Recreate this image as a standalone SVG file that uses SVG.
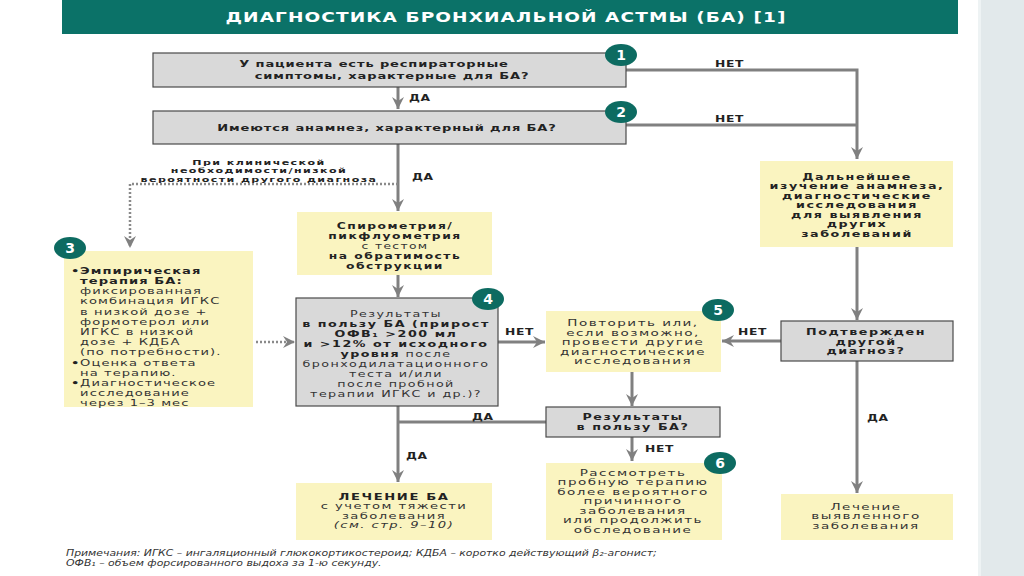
<svg xmlns="http://www.w3.org/2000/svg" width="1024" height="576" viewBox="0 0 1024 576">
<style>
.gray{fill:#d9d9d9;stroke:#4a4a4a;stroke-width:1.2}
.yel{fill:#faf4c0}
.badge{fill:#0d6b61}
.bn{font-family:"DejaVu Sans",sans-serif;font-weight:bold;font-size:14px;fill:#fff;text-anchor:middle}
.h{font-family:"DejaVu Sans",sans-serif;font-weight:bold;font-size:9px;fill:#222;text-anchor:middle;letter-spacing:0.6px}
.t{font-family:"DejaVu Sans",sans-serif;font-weight:bold;font-size:8.2px;fill:#222;text-anchor:middle;letter-spacing:1px}
.n{font-family:"DejaVu Sans",sans-serif;font-size:8.2px;fill:#333;text-anchor:middle;letter-spacing:0.9px}
.l{font-family:"DejaVu Sans",sans-serif;font-size:8.6px;fill:#333;letter-spacing:0.7px}
.lb{font-family:"DejaVu Sans",sans-serif;font-weight:bold;font-size:8.6px;fill:#222;letter-spacing:0.7px}
.lab{font-family:"DejaVu Sans",sans-serif;font-weight:bold;font-size:8.5px;fill:#222;letter-spacing:0.4px}
.an{font-family:"DejaVu Sans",sans-serif;font-weight:bold;font-size:7px;fill:#222;text-anchor:middle;letter-spacing:0.9px}
.c{fill:none;stroke:#808080;stroke-width:3}
.d{fill:none;stroke:#8a8a8a;stroke-width:2.5;stroke-dasharray:2 2}
.note{font-family:"DejaVu Sans",sans-serif;font-style:italic;font-size:8px;fill:#333}
</style>
<defs>
<marker id="ah" markerUnits="userSpaceOnUse" markerWidth="14" markerHeight="12" refX="12" refY="6" orient="auto">
<path d="M0,0 L12,6 L0,12 L4,6 z" fill="#808080"/>
</marker>
</defs>
<rect x="0" y="0" width="1024" height="576" fill="#fff"/>
<rect x="980" y="0" width="44" height="576" fill="#e2e9eb"/>
<rect x="978" y="0" width="3" height="576" fill="#eef3f4"/>

<g id="title">
<rect x="62" y="0" width="896" height="34" fill="#0b7268"/>
<text transform="translate(506 22) scale(1.37 1)" x="0" y="0" font-family="DejaVu Sans,sans-serif" font-weight="bold" font-size="13.5" fill="#fff" text-anchor="middle" letter-spacing="0.8">ДИАГНОСТИКА БРОНХИАЛЬНОЙ АСТМЫ (БА) [1]</text>
</g>

<g id="connectors">
<path class="c" d="M398,87 V109" marker-end="url(#ah)"/>
<path class="c" d="M626,70 H857 V159" marker-end="url(#ah)"/>
<path class="c" d="M626,125 H857"/>
<path class="c" d="M398,144 V211" marker-end="url(#ah)"/>
<path class="d" d="M398,184 H130 V248" marker-end="url(#ah)"/>
<path class="c" d="M398,275 V297" marker-end="url(#ah)"/>
<path class="d" d="M256,342 H295" marker-end="url(#ah)"/>
<path class="c" d="M498,342 H545" marker-end="url(#ah)"/>
<path class="c" d="M857,247 V320" marker-end="url(#ah)"/>
<path class="c" d="M781,341 H722" marker-end="url(#ah)"/>
<path class="c" d="M632,372 V406" marker-end="url(#ah)"/>
<path class="c" d="M546,422 H398"/>
<path class="c" d="M398,406 V482" marker-end="url(#ah)"/>
<path class="c" d="M632,437 V461" marker-end="url(#ah)"/>
<path class="c" d="M857,361 V493" marker-end="url(#ah)"/>
<text class="lab" transform="translate(409 101) scale(1.45 1)">ДА</text>
<text class="lab" transform="translate(715 67) scale(1.45 1)">НЕТ</text>
<text class="lab" transform="translate(715 122) scale(1.45 1)">НЕТ</text>
<text class="lab" transform="translate(412 180) scale(1.45 1)">ДА</text>
<text class="lab" transform="translate(505 335) scale(1.45 1)">НЕТ</text>
<text class="lab" transform="translate(738 335) scale(1.45 1)">НЕТ</text>
<text class="lab" transform="translate(472 420) scale(1.45 1)">ДА</text>
<text class="lab" transform="translate(406 459) scale(1.45 1)">ДА</text>
<text class="lab" transform="translate(645 452) scale(1.45 1)">НЕТ</text>
<text class="lab" transform="translate(867 421) scale(1.45 1)">ДА</text>
<g transform="translate(259 0) scale(1.58 1)">
<text class="an" x="0" y="165">При клинической</text>
<text class="an" x="0" y="173.5">необходимости/низкой</text>
<text class="an" x="0" y="182">вероятности другого диагноза</text>
</g>
</g>

<g id="n1">
<rect class="gray" x="153" y="53" width="473" height="34"/>
<text class="h" transform="translate(374 0) scale(1.45 1)" x="0" y="67.5">У пациента есть респираторные</text>
<text class="h" transform="translate(392 0) scale(1.45 1)" x="0" y="79">симптомы, характерные для БА?</text>
<ellipse class="badge" cx="621" cy="55" rx="16" ry="11"/>
<text class="bn" x="621" y="60">1</text>
</g>

<g id="n2">
<rect class="gray" x="153" y="111" width="473" height="33"/>
<text class="h" transform="translate(387 0) scale(1.45 1)" x="0" y="131">Имеются анамнез, характерный для БА?</text>
<ellipse class="badge" cx="621" cy="112" rx="16" ry="11"/>
<text class="bn" x="621" y="117">2</text>
</g>

<g id="n_spiro">
<rect class="yel" x="297" y="212" width="195" height="63"/>
<g transform="translate(395 0) scale(1.5 1)">
<text class="t" x="0" y="229">Спирометрия/</text>
<text class="t" x="0" y="239">пикфлуометрия</text>
<text class="n" x="0" y="249">с тестом</text>
<text class="t" x="0" y="259">на обратимость</text>
<text class="t" x="0" y="269">обструкции</text>
</g>
</g>

<g id="n3">
<rect class="yel" x="64" y="251" width="189" height="156"/>
<ellipse class="badge" cx="70" cy="248" rx="16" ry="11"/>
<text class="bn" x="70" y="253">3</text>
<g transform="translate(71 0) scale(1.52 1)">
<text class="lb" x="0" y="274">•</text>
<text class="lb" x="6" y="274">Эмпирическая</text>
<text class="lb" x="6" y="284">терапия БА:</text>
<text class="l" x="6" y="294">фиксированная</text>
<text class="l" x="6" y="304">комбинация ИГКС</text>
<text class="l" x="6" y="315">в низкой дозе +</text>
<text class="l" x="6" y="325">формотерол или</text>
<text class="l" x="6" y="335">ИГКС в низкой</text>
<text class="l" x="6" y="345">дозе + КДБА</text>
<text class="l" x="6" y="355">(по потребности).</text>
<text class="lb" x="0" y="366">•</text>
<text class="l" x="6" y="366">Оценка ответа</text>
<text class="l" x="6" y="376">на терапию.</text>
<text class="lb" x="0" y="386">•</text>
<text class="l" x="6" y="386">Диагностическое</text>
<text class="l" x="6" y="396">исследование</text>
<text class="l" x="6" y="406">через 1–3 мес</text>
</g>
</g>

<g id="n4">
<rect class="gray" x="296" y="298" width="202" height="108"/>
<ellipse class="badge" cx="488" cy="299" rx="16" ry="11"/>
<text class="bn" x="488" y="304">4</text>
<g transform="translate(396 0) scale(1.55 1)">
<text class="n" x="0" y="317">Результаты</text>
<text class="t" x="0" y="327">в пользу БА (прирост</text>
<text class="t" x="0" y="337">ОФВ₁ &gt;200 мл</text>
<text class="t" x="0" y="347">и &gt;12% от исходного</text>
<text class="n" x="0" y="357"><tspan font-weight="bold" fill="#222">уровня</tspan> после</text>
<text class="n" x="0" y="367">бронходилатационного</text>
<text class="n" x="0" y="377">теста и/или</text>
<text class="n" x="0" y="387">после пробной</text>
<text class="n" x="0" y="397">терапии ИГКС и др.)?</text>
</g>
</g>

<g id="n5">
<rect class="yel" x="546" y="311" width="175" height="61"/>
<ellipse class="badge" cx="718" cy="310" rx="16" ry="11"/>
<text class="bn" x="718" y="315">5</text>
<g transform="translate(633 0) scale(1.65 1)">
<text class="n" x="0" y="326">Повторить или,</text>
<text class="n" x="0" y="335.6">если возможно,</text>
<text class="n" x="0" y="345.2">провести другие</text>
<text class="n" x="0" y="354.8">диагностические</text>
<text class="n" x="0" y="364.4">исследования</text>
</g>
</g>

<g id="n_further">
<rect class="yel" x="760" y="161" width="193" height="86"/>
<g transform="translate(857 0) scale(1.55 1)">
<text class="t" x="0" y="180">Дальнейшее</text>
<text class="t" x="0" y="189.5">изучение анамнеза,</text>
<text class="t" x="0" y="199">диагностические</text>
<text class="t" x="0" y="208.5">исследования</text>
<text class="t" x="0" y="218">для выявления</text>
<text class="t" x="0" y="227.5">других</text>
<text class="t" x="0" y="237">заболеваний</text>
</g>
</g>

<g id="n_confirm">
<rect class="gray" x="781" y="321" width="172" height="40"/>
<g transform="translate(866 0) scale(1.55 1)">
<text class="t" x="0" y="335.5">Подтвержден</text>
<text class="t" x="0" y="345">другой</text>
<text class="t" x="0" y="354.5">диагноз?</text>
</g>
</g>

<g id="n_results">
<rect class="gray" x="546" y="407" width="174" height="30"/>
<g transform="translate(633 0) scale(1.55 1)">
<text class="t" x="0" y="420">Результаты</text>
<text class="t" x="0" y="430">в пользу БА?</text>
</g>
</g>

<g id="n_treat">
<rect class="yel" x="296" y="483" width="196" height="57"/>
<g transform="translate(394 0) scale(1.6 1)">
<text class="t" x="0" y="500">ЛЕЧЕНИЕ БА</text>
<text class="n" x="0" y="509.5">с учетом тяжести</text>
<text class="n" x="0" y="519">заболевания</text>
<text class="n" x="0" y="528.5" font-style="italic">(см. стр. 9–10)</text>
</g>
</g>

<g id="n6">
<rect class="yel" x="546" y="463" width="176" height="77"/>
<ellipse class="badge" cx="720" cy="463" rx="16" ry="11"/>
<text class="bn" x="720" y="468">6</text>
<g transform="translate(633 0) scale(1.65 1)">
<text class="n" x="0" y="476">Рассмотреть</text>
<text class="n" x="0" y="485.5">пробную терапию</text>
<text class="n" x="0" y="495">более вероятного</text>
<text class="n" x="0" y="504.5">причинного</text>
<text class="n" x="0" y="514">заболевания</text>
<text class="n" x="0" y="523.5">или продолжить</text>
<text class="n" x="0" y="533">обследование</text>
</g>
</g>

<g id="n_other">
<rect class="yel" x="781" y="494" width="172" height="46"/>
<g transform="translate(866 0) scale(1.65 1)">
<text class="n" x="0" y="510">Лечение</text>
<text class="n" x="0" y="519.5">выявленного</text>
<text class="n" x="0" y="529">заболевания</text>
</g>
</g>

<g id="notes">
<g transform="translate(66 0) scale(1.36 1)">
<text class="note" x="0" y="556">Примечания: ИГКС – ингаляционный глюкокортикостероид; КДБА – коротко действующий β₂-агонист;</text>
<text class="note" x="0" y="566">ОФВ₁ – объем форсированного выдоха за 1-ю секунду.</text>
</g>
</g>
</svg>
